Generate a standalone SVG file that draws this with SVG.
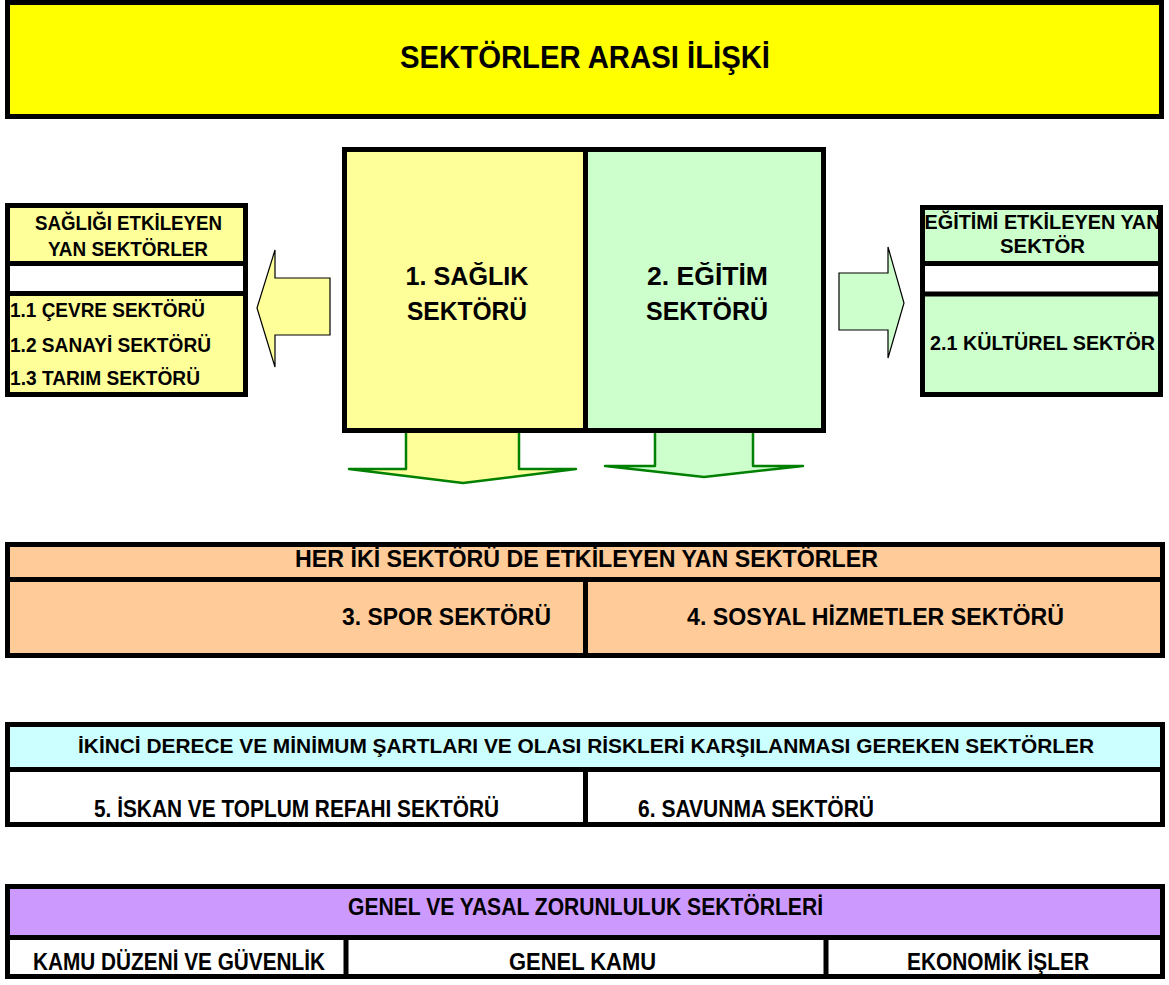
<svg xmlns="http://www.w3.org/2000/svg" width="1169" height="985" viewBox="0 0 1169 985">
<style>
text{font-family:"Liberation Sans",Arial,sans-serif;font-weight:bold;fill:#000}
.box{stroke:#000;stroke-width:5}
.ln{stroke:#000;stroke-width:5;fill:none}
.c{text-anchor:middle}
.e{text-anchor:end}
.t29{font-size:31px}
.t25{font-size:26px}
.t19{font-size:20px}
.t22{font-size:24px}
.arr{stroke:#000;stroke-width:1.2;stroke-linejoin:miter}
.darr{stroke:#008000;stroke-width:2.5;stroke-linejoin:round}
</style>
<rect width="1169" height="985" fill="#fff"/>

<g id="title">
<rect class="box" x="7.5" y="2.5" width="1154" height="114" fill="#FFFF00"/>
<text class="c t29" x="585" y="68" textLength="370" lengthAdjust="spacingAndGlyphs">SEKTÖRLER ARASI İLİŞKİ</text>
</g>

<g id="connectors">
<polygon class="arr" fill="#FFFF99" points="257,308 275,250 275,278 330,278 330,335 275,335 275,367"/>
<polygon class="arr" fill="#CCFFCC" points="839,273 888,273 888,247 904,303 888,358 888,330 839,330"/>
<polygon class="darr" fill="#FFFF99" points="406,430 519,430 519,469 576,469 463,483 349,469 406,469"/>
<polygon class="darr" fill="#CCFFCC" points="655,430 753,430 753,466 803,466 704,477 605,466 655,466"/>
</g>

<g id="saglik">
<rect class="box" x="344.5" y="149.5" width="241" height="281" fill="#FFFF99"/>
<text class="c t25" x="467" y="285" textLength="123" lengthAdjust="spacingAndGlyphs">1. SAĞLIK</text>
<text class="c t25" x="467" y="320" textLength="120" lengthAdjust="spacingAndGlyphs">SEKTÖRÜ</text>
</g>

<g id="egitim">
<rect class="box" x="585.5" y="149.5" width="238" height="281" fill="#CCFFCC"/>
<text class="c t25" x="707.5" y="285" textLength="121" lengthAdjust="spacingAndGlyphs">2. EĞİTİM</text>
<text class="c t25" x="707" y="320" textLength="122" lengthAdjust="spacingAndGlyphs">SEKTÖRÜ</text>
</g>

<g id="saglik-yan">
<rect class="box" x="7.5" y="205.5" width="238" height="189" fill="#FFFF99"/>
<rect x="10" y="265.5" width="233" height="27" fill="#fff"/>
<line class="ln" x1="7.5" y1="263.5" x2="245.5" y2="263.5"/>
<line class="ln" x1="7.5" y1="293.5" x2="245.5" y2="293.5"/>
<text class="c t19" x="128.5" y="230" textLength="187" lengthAdjust="spacingAndGlyphs">SAĞLIĞI ETKİLEYEN</text>
<text class="c t19" x="128" y="256" textLength="160" lengthAdjust="spacingAndGlyphs">YAN SEKTÖRLER</text>
<text class="t19" x="10" y="317" textLength="195" lengthAdjust="spacingAndGlyphs">1.1 ÇEVRE SEKTÖRÜ</text>
<text class="t19" x="10" y="352" textLength="201" lengthAdjust="spacingAndGlyphs">1.2 SANAYİ SEKTÖRÜ</text>
<text class="t19" x="10" y="385" textLength="190" lengthAdjust="spacingAndGlyphs">1.3 TARIM SEKTÖRÜ</text>
</g>

<g id="egitim-yan">
<rect class="box" x="922.5" y="207.5" width="238" height="187" fill="#CCFFCC"/>
<rect x="925" y="265.5" width="233" height="27" fill="#fff"/>
<line class="ln" x1="922.5" y1="263.5" x2="1160.5" y2="263.5"/>
<line class="ln" x1="922.5" y1="294" x2="1160.5" y2="294"/>
<text class="c t19" x="1042.5" y="229" textLength="236" lengthAdjust="spacingAndGlyphs">EĞİTİMİ ETKİLEYEN YAN</text>
<text class="c t19" x="1042.5" y="253" textLength="85" lengthAdjust="spacingAndGlyphs">SEKTÖR</text>
<text class="c t19" x="1042.5" y="350" textLength="225" lengthAdjust="spacingAndGlyphs">2.1 KÜLTÜREL SEKTÖR</text>
</g>

<g id="her-iki">
<rect class="box" x="7.5" y="544.5" width="1155" height="111" fill="#FFCC99"/>
<line class="ln" x1="7.5" y1="579.5" x2="1162.5" y2="579.5"/>
<line class="ln" x1="585.5" y1="579.5" x2="585.5" y2="655.5"/>
<text class="c t22" x="586.5" y="567" textLength="583" lengthAdjust="spacingAndGlyphs">HER İKİ SEKTÖRÜ DE ETKİLEYEN YAN SEKTÖRLER</text>
<text class="e t22" x="551" y="625" textLength="209" lengthAdjust="spacingAndGlyphs">3. SPOR SEKTÖRÜ</text>
<text class="c t22" x="875.5" y="625" textLength="377" lengthAdjust="spacingAndGlyphs">4. SOSYAL HİZMETLER SEKTÖRÜ</text>
</g>

<g id="ikinci">
<rect class="box" x="7.5" y="724.5" width="1155" height="100" fill="#fff"/>
<rect x="10" y="727" width="1150" height="42" fill="#CCFFFF"/>
<line class="ln" x1="7.5" y1="769.5" x2="1162.5" y2="769.5"/>
<line class="ln" x1="585.5" y1="769.5" x2="585.5" y2="824.5"/>
<text class="c" style="font-size:20.5px" x="586" y="753" textLength="1016" lengthAdjust="spacingAndGlyphs">İKİNCİ DERECE VE MİNİMUM ŞARTLARI VE OLASI RİSKLERİ KARŞILANMASI GEREKEN SEKTÖRLER</text>
<text class="c t22" x="296.5" y="817" textLength="405" lengthAdjust="spacingAndGlyphs">5. İSKAN VE TOPLUM REFAHI SEKTÖRÜ</text>
<text class="t22" x="638" y="817" textLength="236" lengthAdjust="spacingAndGlyphs">6. SAVUNMA SEKTÖRÜ</text>
</g>

<g id="genel">
<rect class="box" x="7.5" y="886.5" width="1155" height="90" fill="#fff"/>
<rect x="10" y="889" width="1150" height="48" fill="#CC99FF"/>
<line class="ln" x1="7.5" y1="937.5" x2="1162.5" y2="937.5"/>
<line class="ln" x1="346" y1="937.5" x2="346" y2="976.5"/>
<line class="ln" x1="826" y1="937.5" x2="826" y2="976.5"/>
<text class="c t22" x="585.5" y="915" textLength="475" lengthAdjust="spacingAndGlyphs">GENEL VE YASAL ZORUNLULUK SEKTÖRLERİ</text>
<text class="c t22" x="179" y="970" textLength="292" lengthAdjust="spacingAndGlyphs">KAMU DÜZENİ VE GÜVENLİK</text>
<text class="c t22" x="582.5" y="970" textLength="147" lengthAdjust="spacingAndGlyphs">GENEL KAMU</text>
<text class="c t22" x="998" y="970" textLength="182" lengthAdjust="spacingAndGlyphs">EKONOMİK İŞLER</text>
</g>
</svg>
